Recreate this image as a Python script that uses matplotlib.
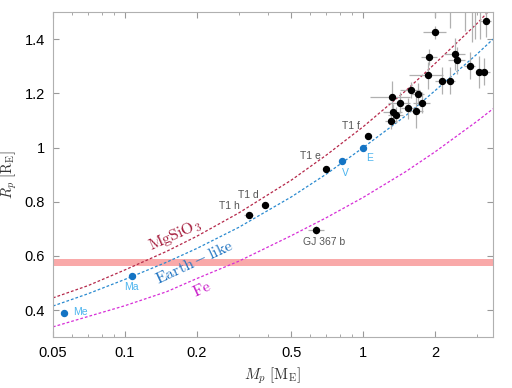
import matplotlib
matplotlib.use('Agg')
import matplotlib.pyplot as plt
from matplotlib.ticker import FixedLocator, FuncFormatter, NullFormatter

plt.rcParams['mathtext.fontset'] = 'cm'
plt.rcParams['font.family'] = ['Liberation Sans', 'DejaVu Sans']

# composition curves
curve_m = [0.05, 0.07, 0.1, 0.15, 0.2, 0.3, 0.5, 0.7, 1.0, 1.5, 2.0, 3.0, 3.5]
r_mgsio3 = [0.445, 0.49, 0.548, 0.617, 0.672, 0.758, 0.88, 0.972, 1.077, 1.208, 1.31, 1.458, 1.52]
r_earth = [0.415, 0.46, 0.513, 0.577, 0.627, 0.705, 0.818, 0.902, 1.0, 1.116, 1.21, 1.345, 1.40]
r_fe = [0.338, 0.376, 0.416, 0.468, 0.516, 0.58, 0.675, 0.741, 0.816, 0.91, 0.984, 1.097, 1.143]

# known small planets
pl_m = [3.26, 2.00, 2.43, 2.47, 1.89, 2.80, 3.07, 3.21, 1.86, 2.14, 2.32,
        1.58, 1.69, 1.32, 1.76, 1.42, 1.54, 1.33, 1.66, 1.37, 1.31]
pl_r = [1.467, 1.425, 1.345, 1.322, 1.334, 1.301, 1.279, 1.279, 1.267, 1.246, 1.246,
        1.212, 1.199, 1.187, 1.166, 1.166, 1.144, 1.132, 1.133, 1.121, 1.099]
pl_merr = [0.18, 0.22, 0.25, 0.20, 0.15, 0.15, 0.10, 0.20, 0.30, 0.15, 0.10,
           0.15, 0.10, 0.25, 0.15, 0.15, 0.10, 0.12, 0.12, 0.10, 0.08]
pl_rerr = [0.06, 0.025, 0.06, 0.05, 0.03, 0.05, 0.06, 0.05, 0.05, 0.05, 0.05,
           0.03, 0.04, 0.06, 0.04, 0.04, 0.04, 0.03, 0.06, 0.03, 0.03]
# planets above the plotted range (only their error bars show)
off_m = [2.00, 2.32, 2.67, 2.85, 2.95, 3.10]
off_r = [1.60, 1.62, 1.60, 1.60, 1.62, 1.65]
off_rerr = [0.12, 0.18, 0.17, 0.21, 0.22, 0.25]

# named planets
named = ['T1 f', 'T1 e', 'T1 d', 'T1 h', 'GJ 367 b']
named_m = [1.042, 0.698, 0.389, 0.331, 0.636]
named_r = [1.043, 0.919, 0.786, 0.752, 0.697]
named_merr = [0.02, 0.02, 0.01, 0.015, 0.05]
named_rerr = [0.01, 0.01, 0.01, 0.01, 0.015]
named_off = [(-17, 10), (-16, 13), (-17, 10), (-19, 9), (8, -12)]

# solar system
sol = ['Me', 'Ma', 'V', 'E']
sol_m = [0.0557, 0.107, 0.815, 1.0]
sol_r = [0.389, 0.525, 0.949, 1.0]
sol_off = [(16, 1), (0, -11), (3, -12), (6, -10)]

fig = plt.figure(figsize=(5.12, 3.88), dpi=100)
ax = fig.add_axes([0.1035, 0.131, 0.8595, 0.838])
ax.set_xscale('log')

ax.axhspan(0.562, 0.589, color='#f9a9a9', lw=0, zorder=1)

ls = (0, (2.2, 1.6))
ax.plot(curve_m, r_mgsio3, color='#b5284a', ls=ls, lw=0.9, zorder=2)
ax.plot(curve_m, r_earth, color='#2a8ad0', ls=ls, lw=0.9, zorder=2)
ax.plot(curve_m, r_fe, color='#d72ed7', ls=ls, lw=0.9, zorder=2)

ax.errorbar(off_m, off_r, yerr=off_rerr, fmt='none', ecolor='#b0b0b0', elinewidth=0.9, zorder=3)
ax.errorbar(pl_m, pl_r, xerr=pl_merr, yerr=pl_rerr, fmt='o', color='black', ms=4.3,
            ecolor='#b0b0b0', elinewidth=0.9, zorder=4)
ax.errorbar(named_m, named_r, xerr=named_merr, yerr=named_rerr, fmt='o', color='black', ms=4.3,
            ecolor='#b0b0b0', elinewidth=0.9, zorder=4)
for name, m, r, off in zip(named, named_m, named_r, named_off):
    ax.annotate(name, (m, r), xytext=off, textcoords='offset pixels', ha='center', va='center',
                fontsize=7.5, color='#555555')

ax.plot(sol_m, sol_r, 'o', color='#1474c4', ms=4.3, zorder=5)
for name, m, r, off in zip(sol, sol_m, sol_r, sol_off):
    ax.annotate(name, (m, r), xytext=off, textcoords='offset pixels', ha='center', va='center',
                fontsize=7.5, color='#4cb4ee')

ax.text(0.162, 0.675, r'$\mathrm{MgSiO_3}$', color='#a51c3c', fontsize=11.5, rotation=24,
        ha='center', va='center')
ax.text(0.196, 0.578, r'$\mathrm{Earth-like}$', color='#1a70c0', fontsize=11.5, rotation=25,
        ha='center', va='center')
ax.text(0.211, 0.479, r'$\mathrm{Fe}$', color='#c818c8', fontsize=11.5, rotation=25,
        ha='center', va='center')

ax.set_xlim(0.05, 3.5)
ax.set_ylim(0.3, 1.5)
ax.xaxis.set_major_locator(FixedLocator([0.05, 0.1, 0.2, 0.5, 1, 2]))
ax.xaxis.set_major_formatter(FuncFormatter(lambda v, p: '%g' % v))
ax.xaxis.set_minor_formatter(NullFormatter())
ax.yaxis.set_major_locator(FixedLocator([0.4, 0.6, 0.8, 1.0, 1.2, 1.4]))
ax.yaxis.set_major_formatter(FuncFormatter(lambda v, p: '%g' % round(v, 1)))
ax.tick_params(which='both', direction='in', top=True, right=True, color='#999999',
               labelsize=10.5, pad=6)
ax.tick_params(which='major', length=4)
ax.tick_params(which='minor', length=2)
for s in ax.spines.values():
    s.set_color('#b0b0b0')

ax.set_xlabel(r'$M_p\ [\mathrm{M_E}]$', fontsize=11, color='#333333')
ax.set_ylabel(r'$R_p\ [\mathrm{R_E}]$', fontsize=10.5, color='#333333')
ax.yaxis.set_label_coords(-0.077, 0.5)

fig.savefig('out.png', dpi=100)
